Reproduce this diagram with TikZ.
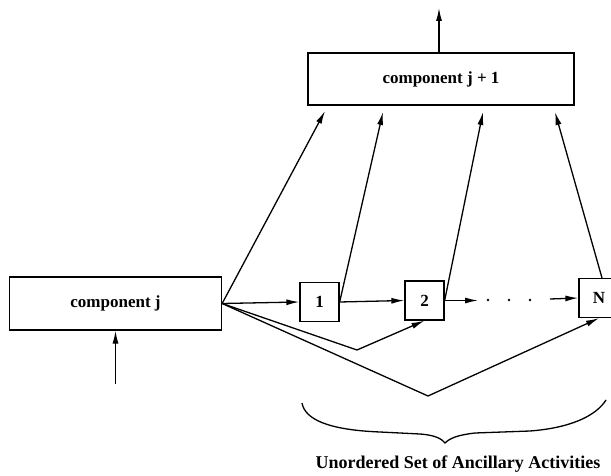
\documentclass[tikz,border=0pt]{standalone}
\usepackage{fontspec}
\setmainfont{Liberation Serif}
\usetikzlibrary{arrows.meta}
\begin{document}
\begin{tikzpicture}[x=1pt,y=-1pt,
  comp/.style={draw,line width=1.3pt,inner sep=0pt,font=\fontsize{17}{20}\selectfont\bfseries},
  act/.style={draw,line width=1.3pt,minimum width=39pt,minimum height=39pt,inner sep=0pt,font=\fontsize{17}{20}\selectfont\bfseries},
  flow/.style={line width=1.3pt,-{Latex[length=13pt,width=6pt]}},
  plain/.style={line width=1.3pt},
  dot/.style={fill,circle,inner sep=0pt,minimum size=2.8pt}]
\useasboundingbox (0,0) rectangle (611,476);
\clip (0,0) rectangle (611,476);
% components
\node[comp,minimum width=212pt,minimum height=53pt] (cj) at (115.5,303.5) {component j};
\node[comp,minimum width=266pt,minimum height=52pt] (cj1) at (441,79) {component j + 1};
% ancillary activities
\node[act] (a1) at (319.5,302) {1};
\node[act] (a2) at (424.5,300.5) {2};
\node[act,minimum width=40pt] (aN) at (599,298) {N};
% free ends and bends
\coordinate (inJ) at (115.5,384);
\coordinate (outTop) at (439,8);
\coordinate (v2) at (357,350);
\coordinate (vN) at (428,396);
\coordinate (d1) at (478,300.5);
\coordinate (d2) at (550,299);
\coordinate (t1) at (325,111);
\coordinate (t2) at (383,112);
\coordinate (t3) at (483,112);
\coordinate (t4) at (555,112);
\coordinate (sN) at (602,278);
% input and output of the components
\draw[flow] (inJ) -- (cj.south -| inJ);
\draw[flow] (cj1.north -| outTop) -- (outTop);
% chain of activities
\draw[flow] (cj.east) -- (a1.west);
\draw[flow] (a1.east) -- (a2.west);
\draw[flow] (a2.east) -- (d1);
\node[dot] (p1) at (488,300) {};
\node[dot] (p2) at (509,300) {};
\node[dot] (p3) at (530,300) {};
\draw[flow] (d2) -- (aN.west);
% feeds into component j + 1
\draw[flow] (cj.east) -- (t1);
\draw[flow] (a1.east) -- (t2);
\draw[flow] (a2.east) -- (t3);
\draw[flow] (sN) -- (t4);
% direct starts of later activities
\draw[flow] (cj.east) -- (v2) -- (a2.south);
\draw[flow] (cj.east) -- (vN) -- (aN.south);
% brace over the unordered set
\draw[plain] (302,403) .. controls (305,420) and (330,430) .. (380,432)
  -- (420,434) .. controls (435,435) and (442,439) .. (445,443)
  .. controls (450,438) and (458,435) .. (475,433)
  -- (530,431) .. controls (570,428) and (596,416) .. (606,400);
\node[font=\fontsize{18}{21}\selectfont\bfseries,anchor=base] (lab) at (458,468) {Unordered Set of Ancillary Activities};
\end{tikzpicture}
\end{document}
